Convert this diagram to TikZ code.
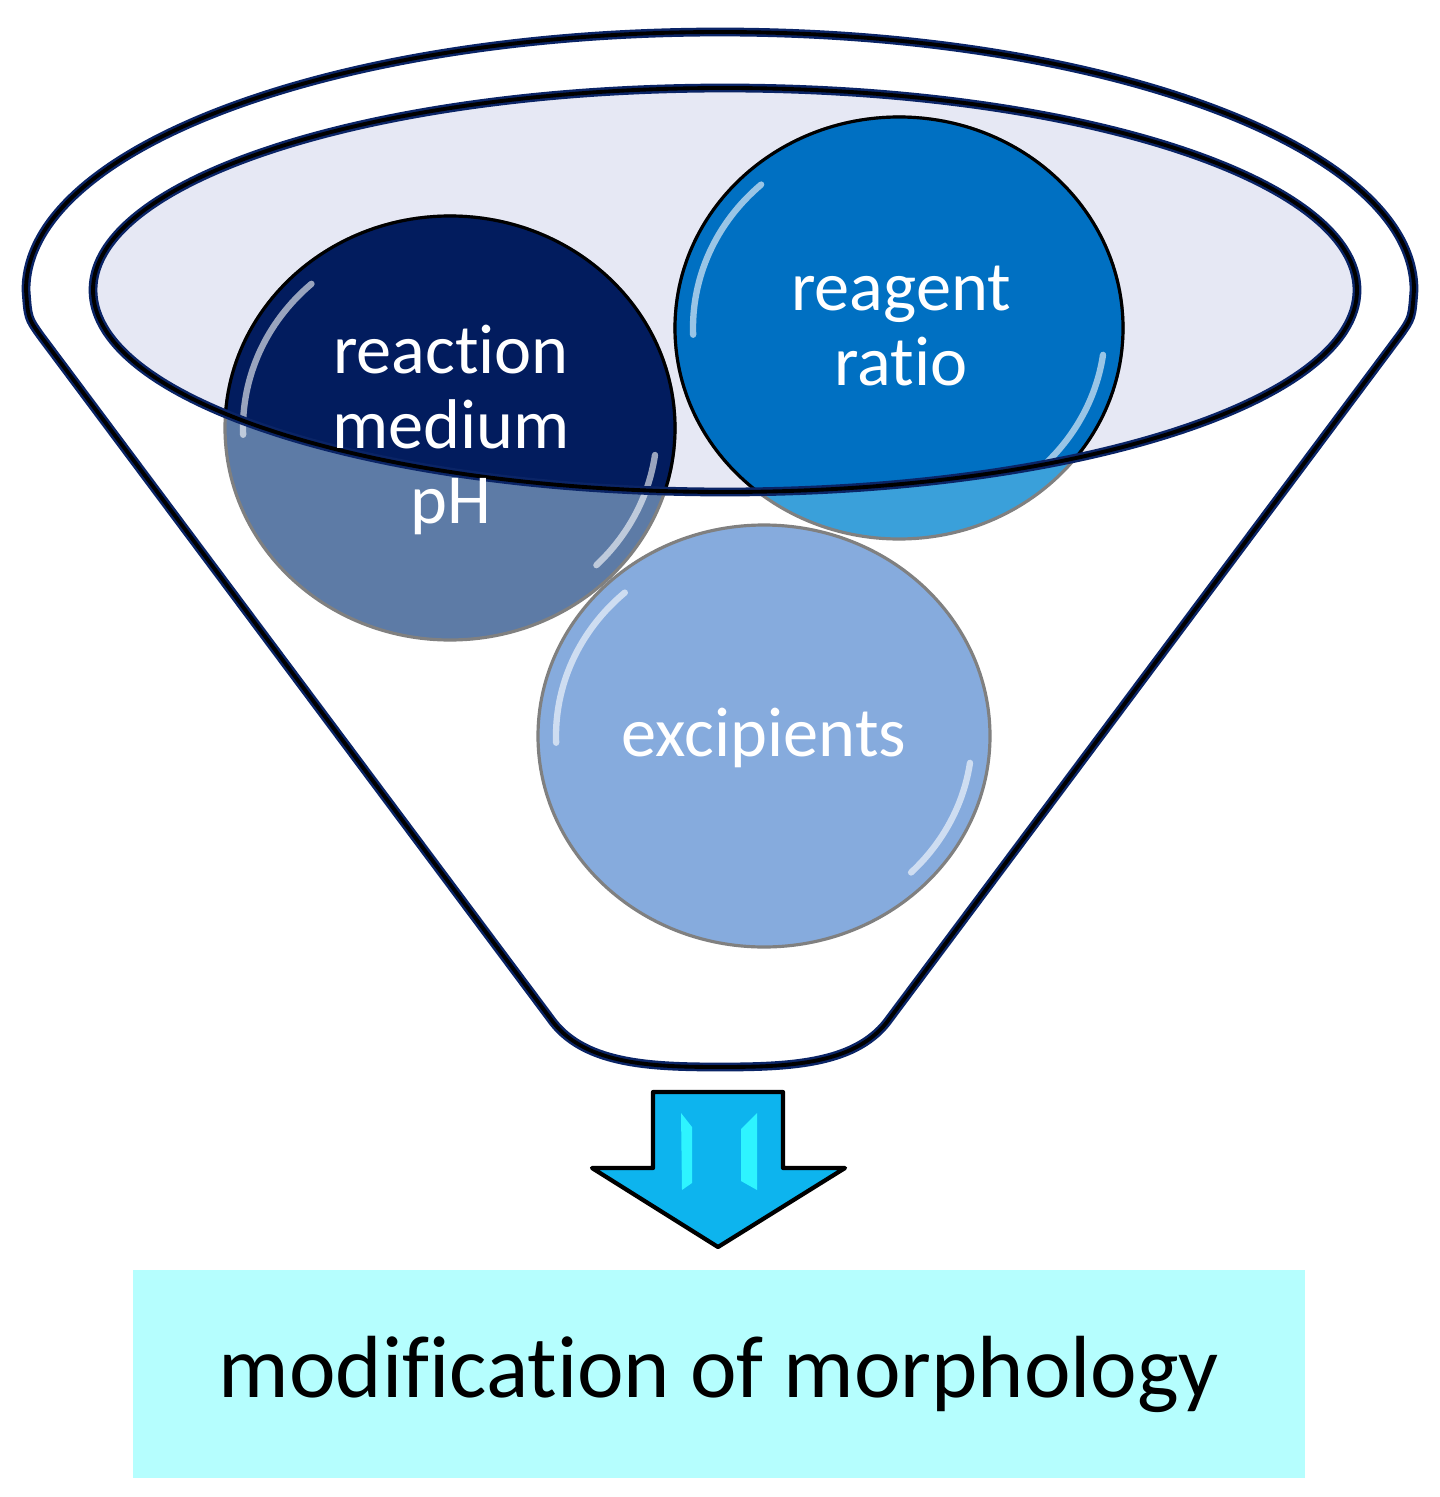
\documentclass[tikz,border=0pt]{standalone}
\usepackage{fontspec}
\setmainfont{Carlito}[Ligatures={NoCommon}]
\usepackage{tikz}

\definecolor{rim}{HTML}{0A2466}
\definecolor{bowl}{HTML}{E6E8F4}
\definecolor{navy}{HTML}{021C5E}
\definecolor{navylight}{HTML}{5D7BA6}
\definecolor{royal}{HTML}{0070C2}
\definecolor{royallight}{HTML}{3AA0DA}
\definecolor{sky}{HTML}{86ABDD}
\definecolor{arrowfill}{HTML}{0DB4EE}
\definecolor{arrowglint}{HTML}{2EF4FF}
\definecolor{boxfill}{HTML}{B5FEFE}

\begin{document}
\begin{tikzpicture}[x=0.01cm,y=-0.01cm,
		rimline/.style={draw=rim,double=black,double distance=1.1pt,line width=0.7pt},
		bubble/.style={draw=gray,line width=0.9pt},
		inbubble/.style={draw=black,line width=0.9pt},
		glint/.style={white,opacity=0.6,line width=1.8pt,line cap=round},
		bubbletext/.style={text=white,align=center,font=\fontsize{20}{21.3}\selectfont}]
	\useasboundingbox (0,0) rectangle (1440,1497);
	\path[fill=white,rimline] (550,1018) -- (40,335) .. controls (28,318) .. (26,290) arc[start angle=180,end angle=360,x radius=694,y radius=258] .. controls (1412,318) .. (1400,335) -- (890,1018) .. controls (858,1064) and (792,1067) .. (720,1067) .. controls (648,1067) and (582,1064) .. (550,1018) -- cycle;
	\fill[bowl] (725,290) ellipse[x radius=632,y radius=202];
	\fill[navylight,bubble] (450,428) ellipse[x radius=225,y radius=212];
	\fill[royallight,bubble] (899,328) ellipse[x radius=224,y radius=211];
	\fill[sky,bubble] (764,736) ellipse[x radius=226,y radius=211];
	\begin{scope}
		\clip (725,290) ellipse[x radius=632,y radius=202];
		\fill[navy,inbubble] (450,428) ellipse[x radius=225,y radius=212];
		\fill[royal,inbubble] (899,328) ellipse[x radius=224,y radius=211];
	\end{scope}
	\draw[glint,shift={(450,428)}] (178:207 and 194) arc[start angle=178,end angle=228,x radius=207,y radius=194] (8:207 and 194) arc[start angle=8,end angle=45,x radius=207,y radius=194];
	\draw[glint,shift={(899,328)}] (178:206 and 193) arc[start angle=178,end angle=228,x radius=206,y radius=193] (8:206 and 193) arc[start angle=8,end angle=45,x radius=206,y radius=193];
	\draw[glint,shift={(764,736)}] (178:208 and 193) arc[start angle=178,end angle=228,x radius=208,y radius=193] (8:208 and 193) arc[start angle=8,end angle=45,x radius=208,y radius=193];
	\draw[rimline] (725,290) ellipse[x radius=632,y radius=202];
	\node[bubbletext] (medium) at (451,430) {reaction\\medium\\pH};
	\node[bubbletext] (ratio) at (901,326) {reagent\\ratio};
	\node[bubbletext] (excipients) at (764,738) {excipients};
	\fill[arrowfill,draw=black,line width=1.2pt,line join=round] (653,1092) -- (783,1092) -- (783,1168) -- (845,1168) -- (718,1247) -- (592,1168) -- (653,1168) -- cycle;
	\fill[arrowglint] (681,1113) -- (692,1127) -- (692,1183) -- (682,1190) -- cycle;
	\fill[arrowglint] (757,1113) -- (741,1129) -- (741,1181) -- (757,1190) -- cycle;
	\node[fill=boxfill,inner sep=0pt,minimum width=11.72cm,minimum height=2.08cm,font=\fontsize{25.1}{30}\selectfont] (result) at (719,1374) {modification of morphology};
\end{tikzpicture}
\end{document}
